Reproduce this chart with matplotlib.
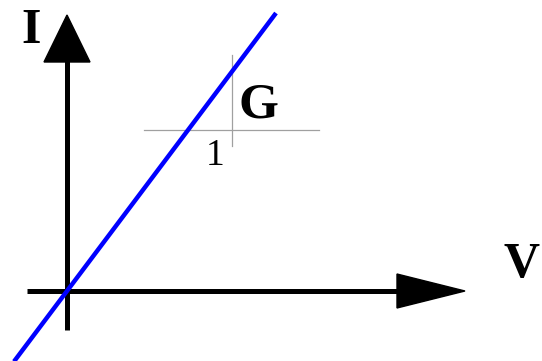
import matplotlib
matplotlib.use("Agg")
import matplotlib.pyplot as plt
from matplotlib.patches import Polygon

# canvas is laid out in pixel units, y pointing down
W, H = 542, 361

ORIGIN = (67, 291)
X_AXIS = [27, 400]          # shaft start / arrowhead base
X_TIP = 465
Y_AXIS = [330, 60]
Y_TIP = 15
SLOPE = 1.33                # conductance line, pixels up per pixel right
LINE_X = [14, 276]

GRID_Y, GRID_X = 130, 232   # slope triangle guides
GRID_H = [144, 319]
GRID_V = [55, 146]

BLUE = "#0000ff"
GREY = "#a0a0a0"

fig = plt.figure(figsize=(W / 100, H / 100), dpi=100)
ax = fig.add_axes([0, 0, 1, 1])
ax.set_xlim(0, W)
ax.set_ylim(H, 0)
ax.axis("off")

# guide lines
ax.plot(GRID_H, [GRID_Y, GRID_Y], color=GREY, lw=0.9, zorder=1)
ax.plot([GRID_X, GRID_X], GRID_V, color=GREY, lw=0.9, zorder=1)

# axes with arrowheads
ox, oy = ORIGIN
ax.plot(X_AXIS, [oy, oy], color="black", lw=3.6, solid_capstyle="butt", zorder=2)
ax.plot([ox, ox], Y_AXIS, color="black", lw=3.6, solid_capstyle="butt", zorder=2)
ax.add_patch(Polygon([[397, oy - 17], [X_TIP, oy], [397, oy + 17]],
                     closed=True, color="black", zorder=2))
ax.add_patch(Polygon([[ox - 23, 62], [ox, Y_TIP], [ox + 23, 62]],
                     closed=True, color="black", zorder=2))

# I = G V
ys = [oy - SLOPE * (x - ox) for x in LINE_X]
ax.plot(LINE_X, ys, color=BLUE, lw=3.2, solid_capstyle="butt", zorder=3)

serif = "Liberation Serif"
ax.text(31, 43, "I", family=serif, weight="bold", fontsize=36,
        ha="center", va="baseline")
ax.text(540, 277, "V", family=serif, weight="bold", fontsize=36,
        ha="right", va="baseline")
ax.text(258, 118, "G", family=serif, weight="bold", fontsize=37,
        ha="center", va="baseline")
ax.text(215, 165, "1", family=serif, fontsize=27,
        ha="center", va="baseline")

fig.savefig("out.png", dpi=100, facecolor="white")
